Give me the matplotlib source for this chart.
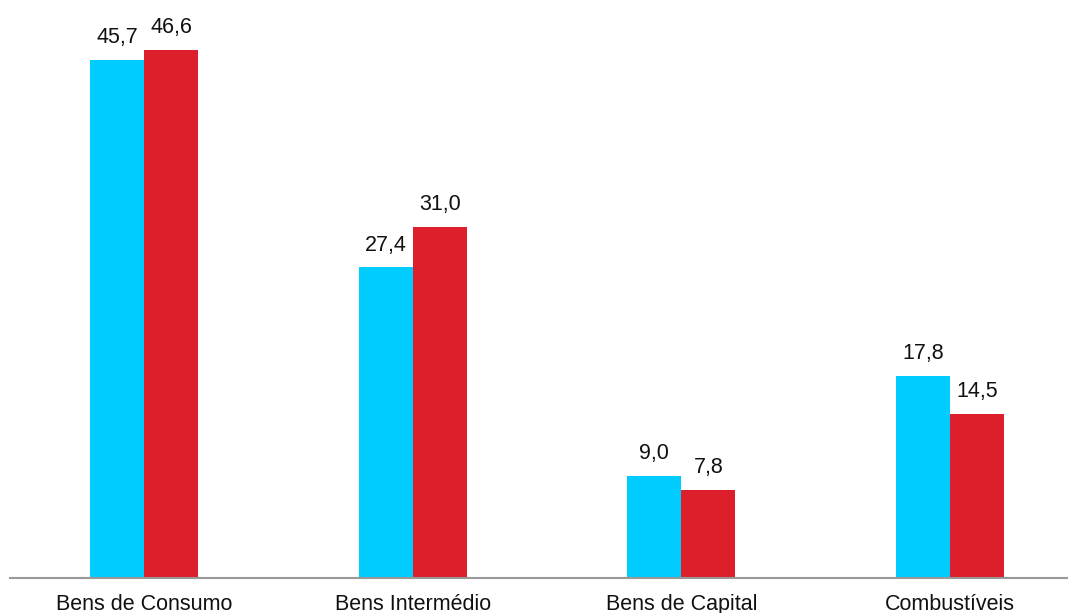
import matplotlib
matplotlib.use("Agg")
import matplotlib.pyplot as plt
import numpy as np

categories = ["Bens de Consumo", "Bens Intermédio", "Bens de Capital", "Combustíveis"]
series_a = [45.7, 27.4, 9.0, 17.8]
series_b = [46.6, 31.0, 7.8, 14.5]

blue = "#00CCFF"
red = "#DC1F2A"

plt.rcParams["font.family"] = ["Liberation Sans", "DejaVu Sans"]

fig = plt.figure(figsize=(10.68, 6.13), dpi=100)
ax = fig.add_axes([10 / 1068, (613 - 578) / 613, 1 - 10 / 1068, 578 / 613])

x = np.arange(len(categories))
w = 0.201
bars_a = ax.bar(x - w / 2, series_a, width=w, color=blue, zorder=2)
bars_b = ax.bar(x + w / 2, series_b, width=w, color=red, zorder=2)

def fmt(v):
    return f"{v:.1f}".replace(".", ",")

for bars, vals in ((bars_a, series_a), (bars_b, series_b)):
    for b, v in zip(bars, vals):
        ax.annotate(fmt(v), (b.get_x() + b.get_width() / 2, v),
                    xytext=(0, 8.5), textcoords="offset points",
                    ha="center", va="bottom", fontsize=15.5, color="#111111")

ax.set_xlim(-0.4988, 3.439)
ax.set_ylim(0, 578 / 11.335)

for s in ("top", "right", "left"):
    ax.spines[s].set_visible(False)
ax.spines["bottom"].set_color("#999999")
ax.spines["bottom"].set_linewidth(1.5)
ax.set_yticks([])
ax.set_xticks(x)
ax.set_xticklabels(categories, fontsize=15.5, color="#111111")
ax.tick_params(axis="x", length=0, pad=11.5)

fig.savefig("out.png", dpi=100)
